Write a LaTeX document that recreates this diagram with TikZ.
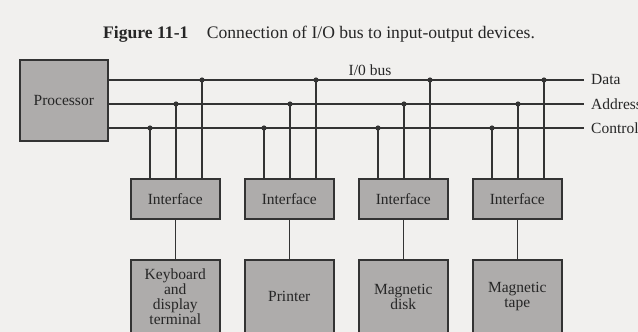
\documentclass[tikz,border=0pt]{standalone}
\usepackage{fontspec}
\setmainfont{Liberation Serif}
\usetikzlibrary{positioning,calc}
\definecolor{cPaper}{HTML}{F1F0EE}
\definecolor{cBox}{HTML}{AEACAB}
\definecolor{cInk}{HTML}{333333}
\definecolor{cText}{HTML}{262626}
\tikzset{
  blk/.style={draw=cInk,fill=cBox,line width=1.6pt,align=center,text=cText,font=\fontsize{15.5}{15}\selectfont,inner sep=0pt,minimum width=89pt},
  bus/.style={draw=cInk,line width=1.4pt},
  tap/.style={draw=cInk,line width=1.3pt},
  dot/.style={fill=cInk},
  lbl/.style={font=\fontsize{15.5}{15}\selectfont,text=cText,inner sep=0pt},
}

\begin{document}
\begin{tikzpicture}[x=1pt,y=-1pt]
  \fill[cPaper] (0,0) rectangle (638,332);
  \useasboundingbox (0,0) rectangle (638,332);
  \node[lbl,font=\fontsize{17.6}{17}\selectfont,anchor=base west] (title) at (103,38) {\textbf{Figure 11-1}\hspace{1.05em}Connection of I/O bus to input-output devices.};
  \node[blk,minimum width=88pt,minimum height=81pt,anchor=north west] (proc) at (19,59) {Processor};
  % bus lines, ends named by their labels
  \node[lbl,anchor=west] (dat) at (591,80) {Data};
  \node[lbl,anchor=west] (adr) at (591,104) {Address};
  \node[lbl,anchor=west] (ctl) at (591,128) {Control};
  \node[lbl,anchor=base] (busname) at (370,75) {I/0 bus};
  \foreach \bn in {dat,adr,ctl}{
    \coordinate (\bn E) at ([xshift=-7pt]\bn.west);
    \draw[bus] (proc.east |- \bn E) -- (\bn E);
  }
  \foreach \i/\dev in {0/{Keyboard\\and\\display\\terminal},1/Printer,2/{Magnetic\\disk},3/{Magnetic\\tape}}{
    \pgfmathsetmacro{\xl}{130+114*\i}
    \node[blk,minimum height=40pt,anchor=north west] (if\i) at (\xl,178) {Interface};
    \node[blk,minimum height=74pt,anchor=north west] (dev\i) at (\xl,259) {\dev};
    \draw[tap] (if\i) -- (dev\i);
    \foreach \o/\bn in {20/ctl,46/adr,72/dat}{
      \coordinate (t\bn\i) at ($(\xl+\o,0)!(\bn E)!(\xl+\o,10)$);
      \draw[tap] (t\bn\i) -- (t\bn\i |- if\i.north);
      \fill[dot] (t\bn\i) circle (2.6pt);
    }
  }
\end{tikzpicture}
\end{document}
